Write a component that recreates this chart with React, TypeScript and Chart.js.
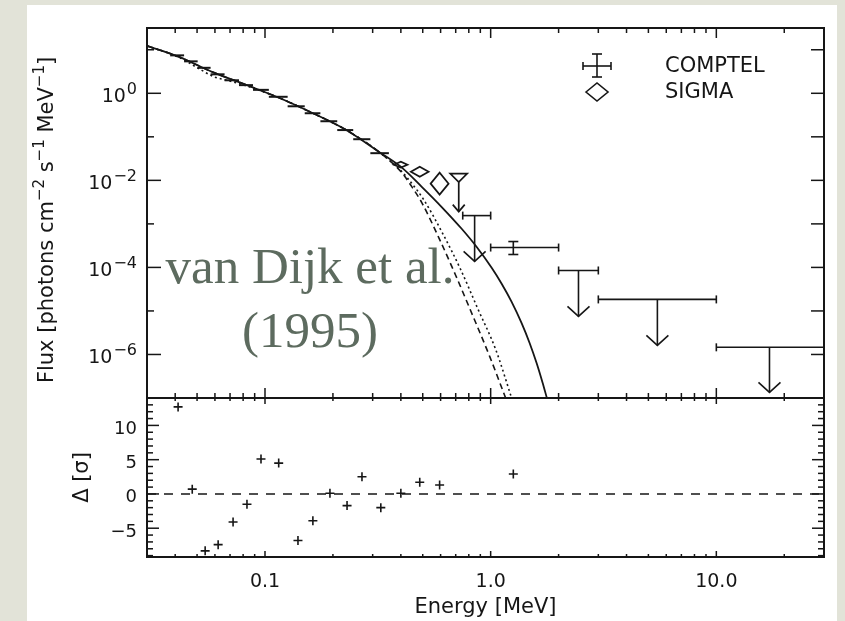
import React, { useEffect, useRef } from 'react';
import { Chart, registerables } from 'chart.js';

Chart.register(...registerables);

// ---------- best-fit model and its two components (E in MeV, flux in photons cm^-2 s^-1 MeV^-1) ----------
const totalModelE = [0.03, 0.0416, 0.0582, 0.0824, 0.1153, 0.1614, 0.228, 0.319, 0.404, 0.4951, 0.6069, 0.7439, 0.8672, 1.0102, 1.1186, 1.2386, 1.3714, 1.4878, 1.5979, 1.6986, 1.7747];
const totalModelFlux = [12.3, 6.87, 3.11, 1.57, 0.789, 0.357, 0.1455, 0.0455, 0.01956, 0.0071, 0.00244, 7.72e-4, 2.95e-4, 9.84e-5, 4.23e-5, 1.62e-5, 5.25e-6, 1.84e-6, 6.35e-7, 2.24e-7, 1e-7];

const dottedCompE = [0.03, 0.0416, 0.0511, 0.0595, 0.0693, 0.0824, 0.1153, 0.1614, 0.228, 0.319, 0.404, 0.4518, 0.505, 0.6131, 0.7363, 0.876, 1.0522, 1.2386];
const dottedCompFlux = [12.3, 6.7, 3.65, 2.39, 1.94, 1.49, 0.789, 0.357, 0.1455, 0.0455, 0.01584, 0.00797, 0.00361, 5.99e-4, 8.95e-5, 1.14e-5, 1.31e-6, 1e-7];

const dashedCompE = [0.03, 0.0416, 0.0582, 0.0824, 0.1153, 0.1614, 0.228, 0.319, 0.404, 0.4471, 0.4951, 0.5888, 0.7002, 0.8323, 0.9899, 1.165];
const dashedCompFlux = [12.3, 6.87, 3.11, 1.57, 0.789, 0.357, 0.1455, 0.0455, 0.01502, 0.00717, 0.00308, 4.85e-4, 6.52e-5, 7.88e-6, 9.04e-7, 1e-7];

// ---------- low-energy spectrum: contiguous energy bins ----------
const binEdges = [0.038, 0.0438, 0.0503, 0.0574, 0.0662, 0.0767, 0.0885, 0.104, 0.126, 0.15, 0.176, 0.209, 0.246, 0.293, 0.354];
const binFlux = [7.44, 5.42, 3.85, 2.73, 1.99, 1.54, 1.2, 0.831, 0.503, 0.348, 0.228, 0.143, 0.0881, 0.0421];

// ---------- SIGMA points (diamonds) ----------
const sigmaE = [0.4, 0.485, 0.594];
const sigmaELo = [0.372, 0.443, 0.542];
const sigmaEHi = [0.428, 0.531, 0.651];
const sigmaFlux = [0.0229, 0.0158, 0.0084];
const sigmaFluxLo = [0.0196, 0.0121, 0.0047];
const sigmaFluxHi = [0.0268, 0.0206, 0.015];

// SIGMA upper limit
const sigmaUlE = [0.722];
const sigmaUlELo = [0.662];
const sigmaUlEHi = [0.787];
const sigmaUlFlux = [0.01425];
const sigmaUlVertex = [0.0091];
const sigmaUlTip = [0.00191];

// ---------- COMPTEL ----------
const comptelE = [1.26];
const comptelELo = [1.0];
const comptelEHi = [2.0];
const comptelFlux = [2.86e-4];
const comptelFluxLo = [1.98e-4];
const comptelFluxHi = [3.93e-4];

const comptelUlE = [0.849, 2.45, 5.48, 17.2];
const comptelUlELo = [0.752, 2.0, 3.0, 10.0];
const comptelUlEHi = [1.0, 3.0, 10.0, 30.0];
const comptelUlFlux = [1.55e-3, 8.5e-5, 1.84e-5, 1.46e-6];
const comptelUlTip = [1.37e-4, 7.5e-6, 1.62e-6, 1.35e-7];

// ---------- residuals (sigma) ----------
const residE = [0.0412, 0.0476, 0.0543, 0.062, 0.0722, 0.0832, 0.096, 0.115, 0.14, 0.163, 0.194, 0.231, 0.269, 0.326, 0.4, 0.485, 0.594, 1.26];
const residSigma = [12.7, 0.7, -8.3, -7.4, -4.1, -1.5, 5.1, 4.5, -6.8, -3.9, 0.1, -1.7, 2.5, -2.0, 0.1, 1.7, 1.3, 2.9];

// ---------- axes ----------
const energyMin = 0.03;
const energyMax = 30;
const fluxMin = 1e-7;
const fluxMax = 10 ** 1.5;
const residMin = -9.2;
const residMax = 14;
const energyMajorTicks = [0.1, 1, 10];
const energyTickLabels = ['0.1', '1.0', '10.0'];
const energyMinorTicks = [0.04, 0.05, 0.06, 0.07, 0.08, 0.09, 0.2, 0.3, 0.4, 0.5, 0.6, 0.7, 0.8, 0.9, 2, 3, 4, 5, 6, 7, 8, 9, 20];
const fluxTickDecades = [-6, -5, -4, -3, -2, -1, 0, 1];
const fluxLabelDecades = [0, -2, -4, -6];
const residMajorTicks = [-5, 0, 5, 10];
const residTickLabels = ['\u22125', '0', '5', '10'];

const INK = '#161616';
const PAGE_BG = '#e2e3d8';
const NOTE_COLOR = '#5d6b5f';
const SANS = '"DejaVu Sans", "Liberation Sans", sans-serif';
const SERIF = '"Liberation Serif", "DejaVu Serif", serif';

const pts = (xs: number[], ys: number[]) => xs.map((v, i) => ({ x: v, y: ys[i] }));

function seg(ctx: CanvasRenderingContext2D, x1: number, y1: number, x2: number, y2: number) {
  ctx.beginPath();
  ctx.moveTo(x1, y1);
  ctx.lineTo(x2, y2);
  ctx.stroke();
}

function arrowDown(ctx: CanvasRenderingContext2D, x: number, yTop: number, yTip: number, half: number, head: number) {
  seg(ctx, x, yTop, x, yTip);
  ctx.beginPath();
  ctx.moveTo(x - half, yTip - head);
  ctx.lineTo(x, yTip);
  ctx.lineTo(x + half, yTip - head);
  ctx.stroke();
}

type Part = { t: string; sup?: boolean };

function drawRich(ctx: CanvasRenderingContext2D, parts: Part[], cx: number, baseY: number, baseFont: string, supFont: string, rise: number) {
  let total = 0;
  const widths = parts.map((p) => {
    ctx.font = p.sup ? supFont : baseFont;
    const w = ctx.measureText(p.t).width;
    total += w;
    return w;
  });
  let xPos = cx - total / 2;
  ctx.textAlign = 'left';
  parts.forEach((p, i) => {
    ctx.font = p.sup ? supFont : baseFont;
    ctx.fillText(p.t, xPos, p.sup ? baseY - rise : baseY);
    xPos += widths[i];
  });
}

const figurePlugin = {
  id: 'spectrumFigure',
  beforeDraw(chart: any) {
    const { ctx, width, height } = chart;
    ctx.save();
    ctx.fillStyle = PAGE_BG;
    ctx.fillRect(0, 0, width, height);
    ctx.fillStyle = '#ffffff';
    ctx.fillRect(27, 5, 810, height - 5);
    ctx.restore();
  },
  afterDatasetsDraw(chart: any) {
    const ctx: CanvasRenderingContext2D = chart.ctx;
    const x = chart.scales.x;
    const f = chart.scales.flux;
    const r = chart.scales.resid;
    const X = (v: number) => x.getPixelForValue(v);
    const Y = (v: number) => f.getPixelForValue(v);
    ctx.save();
    ctx.strokeStyle = INK;
    ctx.lineCap = 'butt';
    ctx.lineJoin = 'miter';

    // zero line of the residual panel
    ctx.lineWidth = 1.5;
    ctx.setLineDash([9, 8]);
    const y0 = r.getPixelForValue(0);
    seg(ctx, X(energyMin), y0, X(energyMax), y0);
    ctx.setLineDash([]);

    // low-energy bins
    ctx.lineWidth = 2;
    for (let i = 0; i < binFlux.length; i++) {
      const py = Y(binFlux[i]);
      seg(ctx, X(binEdges[i]), py, X(binEdges[i + 1]), py);
    }

    // SIGMA diamonds
    ctx.lineWidth = 1.7;
    for (let i = 0; i < sigmaE.length; i++) {
      const xc = X(sigmaE[i]);
      const yc = Y(sigmaFlux[i]);
      ctx.beginPath();
      ctx.moveTo(X(sigmaELo[i]), yc);
      ctx.lineTo(xc, Y(sigmaFluxHi[i]));
      ctx.lineTo(X(sigmaEHi[i]), yc);
      ctx.lineTo(xc, Y(sigmaFluxLo[i]));
      ctx.closePath();
      ctx.stroke();
    }

    // SIGMA upper limit: open triangle with arrow
    for (let i = 0; i < sigmaUlE.length; i++) {
      const xc = X(sigmaUlE[i]);
      const yt = Y(sigmaUlFlux[i]);
      const yv = Y(sigmaUlVertex[i]);
      ctx.beginPath();
      ctx.moveTo(X(sigmaUlELo[i]), yt);
      ctx.lineTo(X(sigmaUlEHi[i]), yt);
      ctx.lineTo(xc, yv);
      ctx.closePath();
      ctx.stroke();
      arrowDown(ctx, xc, yv, Y(sigmaUlTip[i]), 6, 7);
    }

    // COMPTEL detection
    ctx.lineWidth = 1.6;
    for (let i = 0; i < comptelE.length; i++) {
      const xc = X(comptelE[i]);
      const yc = Y(comptelFlux[i]);
      const xl = X(comptelELo[i]);
      const xr = X(comptelEHi[i]);
      seg(ctx, xl, yc, xr, yc);
      seg(ctx, xl, yc - 4, xl, yc + 4);
      seg(ctx, xr, yc - 4, xr, yc + 4);
      const yh = Y(comptelFluxHi[i]);
      const yl = Y(comptelFluxLo[i]);
      seg(ctx, xc, yh, xc, yl);
      seg(ctx, xc - 5, yh, xc + 5, yh);
      seg(ctx, xc - 5, yl, xc + 5, yl);
    }

    // COMPTEL upper limits
    for (let i = 0; i < comptelUlE.length; i++) {
      const yc = Y(comptelUlFlux[i]);
      const xl = X(comptelUlELo[i]);
      const xr = X(comptelUlEHi[i]);
      seg(ctx, xl, yc, xr, yc);
      seg(ctx, xl, yc - 4, xl, yc + 4);
      seg(ctx, xr, yc - 4, xr, yc + 4);
      arrowDown(ctx, X(comptelUlE[i]), yc, Y(comptelUlTip[i]), 11, 10);
    }
    ctx.restore();
  },
  afterDraw(chart: any) {
    const ctx: CanvasRenderingContext2D = chart.ctx;
    const area = chart.chartArea;
    const x = chart.scales.x;
    const f = chart.scales.flux;
    const r = chart.scales.resid;
    const L = area.left;
    const R = area.right;
    const fT = f.top;
    const fB = f.bottom;
    const rT = r.top;
    const rB = r.bottom;
    ctx.save();
    ctx.strokeStyle = INK;
    ctx.fillStyle = INK;

    // frames
    ctx.lineWidth = 2;
    ctx.strokeRect(L, fT, R - L, fB - fT);
    ctx.strokeRect(L, rT, R - L, rB - rT);

    // energy ticks on every horizontal edge
    ctx.lineWidth = 1.5;
    const eTick = (v: number, major: boolean) => {
      const px = x.getPixelForValue(v);
      const a = major ? 10 : 5;
      const b = major ? 6 : 3;
      seg(ctx, px, fT, px, fT + a);
      seg(ctx, px, fB, px, fB - a);
      seg(ctx, px, rT, px, rT + b);
      seg(ctx, px, rB, px, rB - b);
    };
    energyMajorTicks.forEach((v) => eTick(v, true));
    energyMinorTicks.forEach((v) => eTick(v, false));

    // flux decade ticks
    fluxTickDecades.forEach((d) => {
      const py = f.getPixelForValue(10 ** d);
      seg(ctx, L, py, L + (d % 2 === 0 ? 14 : 7), py);
      seg(ctx, R, py, R - 13, py);
    });

    // residual ticks
    for (let v = Math.ceil(residMin); v <= Math.floor(residMax); v++) {
      if (v <= residMin || v >= residMax) continue;
      const py = r.getPixelForValue(v);
      const len = v % 5 === 0 ? 12 : 6;
      seg(ctx, L, py, L + len, py);
      seg(ctx, R, py, R - len, py);
    }

    // energy tick labels
    ctx.font = `19px ${SANS}`;
    ctx.textAlign = 'center';
    ctx.textBaseline = 'alphabetic';
    energyMajorTicks.forEach((v, i) => {
      ctx.fillText(energyTickLabels[i], x.getPixelForValue(v), rB + 30);
    });

    // flux labels 10^n
    const labelRight = L - 10;
    fluxLabelDecades.forEach((d) => {
      const py = f.getPixelForValue(10 ** d);
      const sup = d === 0 ? '0' : '\u2212' + Math.abs(d);
      ctx.font = `16px ${SANS}`;
      const supW = ctx.measureText(sup).width;
      ctx.font = `19px ${SANS}`;
      const baseW = ctx.measureText('10').width;
      ctx.textAlign = 'left';
      ctx.fillText('10', labelRight - supW - baseW - 1, py + 8.5);
      ctx.font = `16px ${SANS}`;
      ctx.fillText(sup, labelRight - supW, py + 0.5);
    });

    // residual labels
    ctx.font = `18px ${SANS}`;
    ctx.textAlign = 'right';
    residMajorTicks.forEach((v, i) => {
      ctx.fillText(residTickLabels[i], labelRight, r.getPixelForValue(v) + 8.5);
    });

    // axis titles
    ctx.font = `21px ${SANS}`;
    ctx.textAlign = 'center';
    ctx.fillText('Energy [MeV]', (L + R) / 2, rB + 56);

    ctx.save();
    ctx.translate(53, (fT + fB) / 2 + 7);
    ctx.rotate(-Math.PI / 2);
    drawRich(
      ctx,
      [
        { t: 'Flux [photons cm' },
        { t: '\u22122', sup: true },
        { t: ' s' },
        { t: '\u22121', sup: true },
        { t: ' MeV' },
        { t: '\u22121', sup: true },
        { t: ']' },
      ],
      0,
      0,
      `21px ${SANS}`,
      `15px ${SANS}`,
      9
    );
    ctx.restore();

    ctx.save();
    ctx.translate(88, (rT + rB) / 2);
    ctx.rotate(-Math.PI / 2);
    ctx.font = `21px ${SANS}`;
    ctx.textAlign = 'center';
    ctx.fillText('\u0394 [\u03c3]', 0, 0);
    ctx.restore();

    // legend
    ctx.lineWidth = 1.6;
    seg(ctx, 583, 66, 611, 66);
    seg(ctx, 583, 62, 583, 70);
    seg(ctx, 611, 62, 611, 70);
    seg(ctx, 597, 54, 597, 77);
    seg(ctx, 592, 54, 602, 54);
    seg(ctx, 592, 77, 602, 77);
    ctx.beginPath();
    ctx.moveTo(586, 92);
    ctx.lineTo(597, 83);
    ctx.lineTo(608, 92);
    ctx.lineTo(597, 101);
    ctx.closePath();
    ctx.stroke();
    ctx.font = `21px ${SANS}`;
    ctx.textAlign = 'left';
    ctx.fillText('COMPTEL', 665, 72);
    ctx.fillText('SIGMA', 665, 98);

    // reference note
    ctx.fillStyle = NOTE_COLOR;
    ctx.font = `51px ${SERIF}`;
    ctx.textAlign = 'center';
    ctx.fillText('van Dijk et al.', 310, 283);
    ctx.fillText('(1995)', 310, 347);
    ctx.restore();
  },
};

// invisible scale chrome: the frame, ticks and labels are drawn by the plugin
const hiddenScale = {
  ticks: { display: false },
  grid: { display: false, drawTicks: false },
  border: { display: false },
  afterFit(scale: any) {
    if (scale.isHorizontal()) scale.height = 0;
    else scale.width = 0;
  },
};

export default function App() {
  const ref = useRef<HTMLCanvasElement>(null);

  useEffect(() => {
    const canvas = ref.current;
    if (!canvas) return;
    const chart = new Chart(canvas, {
      type: 'scatter',
      data: {
        datasets: [
          {
            data: pts(totalModelE, totalModelFlux),
            yAxisID: 'flux',
            showLine: true,
            borderColor: INK,
            borderWidth: 1.8,
            pointRadius: 0,
            cubicInterpolationMode: 'monotone',
          },
          {
            data: pts(dottedCompE, dottedCompFlux),
            yAxisID: 'flux',
            showLine: true,
            borderColor: INK,
            borderWidth: 1.6,
            borderDash: [2, 3],
            pointRadius: 0,
            cubicInterpolationMode: 'monotone',
          },
          {
            data: pts(dashedCompE, dashedCompFlux),
            yAxisID: 'flux',
            showLine: true,
            borderColor: INK,
            borderWidth: 1.6,
            borderDash: [6, 4],
            pointRadius: 0,
            cubicInterpolationMode: 'monotone',
          },
          {
            data: pts(residE, residSigma),
            yAxisID: 'resid',
            showLine: false,
            pointStyle: 'cross',
            pointRadius: 4.5,
            borderWidth: 1.6,
            borderColor: INK,
          },
        ],
      },
      options: {
        responsive: false,
        animation: false,
        events: [],
        layout: { padding: { left: 147, right: 21, top: 28, bottom: 64 } },
        plugins: { legend: { display: false }, tooltip: { enabled: false } },
        scales: {
          x: {
            type: 'logarithmic',
            min: energyMin,
            max: energyMax,
            ...hiddenScale,
          },
          resid: {
            type: 'linear',
            position: 'left',
            stack: 'panels',
            stackWeight: 159,
            min: residMin,
            max: residMax,
            ...hiddenScale,
          },
          flux: {
            type: 'logarithmic',
            position: 'left',
            stack: 'panels',
            stackWeight: 370,
            min: fluxMin,
            max: fluxMax,
            ...hiddenScale,
          },
        },
      } as any,
      plugins: [figurePlugin],
    });
    return () => chart.destroy();
  }, []);

  return (
    <div style={{ position: 'fixed', left: 0, top: 0, width: 845, height: 621 }}>
      <canvas ref={ref} width={845} height={621} style={{ display: 'block', width: 845, height: 621 }} />
    </div>
  );
}
